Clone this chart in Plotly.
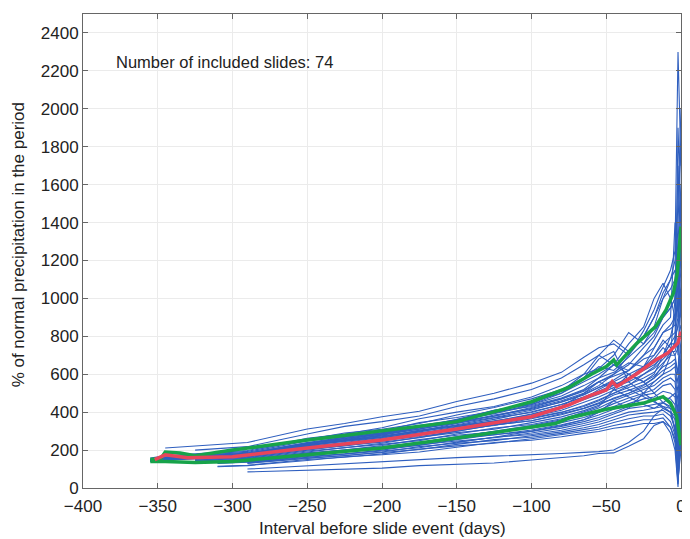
import plotly.graph_objects as go

N = None
# Day grid for the individual slide series (days before the slide event)
days = [-355, -345, -325, -310, -290, -250, -225, -200, -175, -150, -125, -100,
        -80, -65, -55, -45, -35, -25, -18, -12, -7, -4, -2, 0]

slides = [
    [N, 211, 222, 228, 240, 311, 340, 376, 405, 456, 500, 553, 610, 690, 740, 760, 700, 830, 940, 1060, 1150, 1250, 2300, 1700],
    [N, N, 200, 208, 218, 285, 325, 350, 380, 430, 470, 520, 580, 650, 700, 780, 720, 800, 900, 1030, 1100, 1200, 1500, 2000],
    [158, 170, 180, 188, 198, 262, 285, 318, 365, 400, 430, 480, 540, 600, 630, 700, 820, 760, 850, 1000, 1050, 1100, 1300, 1600],
    [152, 165, 175, 183, 193, 255, 290, 310, 340, 385, 425, 470, 520, 580, 640, 620, 690, 760, 820, 900, 950, 1000, 1200, 1450],
    [150, 160, 172, 179, 188, 248, 270, 300, 345, 372, 405, 455, 500, 560, 600, 650, 620, 700, 780, 860, 900, 1400, 1050, 1300],
    [148, 158, 168, 176, 184, 240, 268, 292, 320, 362, 410, 440, 485, 540, 580, 610, 660, 640, 740, 820, 860, 900, 980, 1150],
    [146, 156, 165, 172, 180, 234, 262, 285, 318, 352, 380, 425, 470, 510, 560, 590, 620, 680, 700, 760, 800, 820, 900, 1050],
    [145, 154, 162, 169, 176, 228, 250, 278, 312, 342, 372, 410, 455, 495, 530, 560, 600, 640, 680, 740, 700, 780, 860, 950],
    [144, 152, 160, 166, 173, 222, 250, 270, 295, 334, 370, 398, 440, 480, 510, 545, 580, 620, 650, 700, 760, 760, 1100, 900],
    [142, 150, 158, 164, 170, 216, 236, 262, 298, 325, 350, 388, 425, 465, 495, 530, 560, 600, 630, 680, 720, 720, 780, 860],
    [140, 148, 155, 161, 167, 210, 235, 255, 280, 316, 348, 376, 410, 450, 480, 515, 545, 580, 610, 660, 700, 700, 740, 820],
    [N, N, 150, 156, 163, 205, 222, 248, 282, 308, 330, 365, 398, 435, 465, 500, 530, 560, 590, 640, 660, 680, 600, 780],
    [N, N, 148, 153, 160, 200, 225, 242, 265, 300, 332, 355, 386, 420, 450, 490, 515, 545, 580, 620, 640, 660, 550, 750],
    [N, N, 145, 150, 156, 195, 212, 236, 268, 292, 310, 345, 375, 408, 436, 475, 500, 530, 560, 600, 620, 640, 500, 700],
    [N, N, 142, 147, 153, 190, 213, 230, 250, 285, 316, 335, 365, 396, 422, 460, 490, 520, 540, 580, 600, 600, 450, 680],
    [N, N, N, 140, 148, 185, 200, 224, 255, 278, 295, 325, 355, 384, 410, 445, 475, 500, 520, 560, 580, 560, 400, 650],
    [N, N, N, 138, 145, 180, 202, 218, 240, 270, 298, 316, 345, 372, 398, 430, 460, 490, 500, 540, 550, 520, 350, 620],
    [N, N, N, 135, 141, 175, 190, 212, 240, 262, 280, 306, 334, 360, 385, 415, 445, 470, 480, 510, 500, 480, 300, 600],
    [N, N, N, 132, 139, 170, 192, 206, 225, 255, 282, 298, 325, 350, 372, 400, 430, 450, 460, 480, 470, 440, 250, 560],
    [N, N, N, 130, 136, 166, 180, 200, 228, 248, 265, 290, 316, 340, 360, 390, 420, 430, 440, 450, 430, 400, 200, 520],
    [N, N, N, N, 135, 162, 182, 195, 212, 242, 268, 282, 305, 330, 348, 375, 400, 410, 420, 430, 400, 360, 150, 480],
    [N, N, N, N, 132, 158, 170, 190, 218, 236, 250, 275, 296, 318, 335, 360, 385, 395, 400, 410, 380, 320, 100, 450],
    [N, N, N, N, 130, 155, 173, 186, 203, 230, 255, 268, 288, 308, 322, 345, 365, 380, 380, 390, 350, 280, 60, 420],
    [N, N, N, 115, 120, 150, 162, 180, 205, 222, 236, 260, 280, 298, 310, 330, 345, 360, 360, 370, 320, 240, 20, 400],
    [N, N, N, 112, 118, 145, 165, 175, 190, 215, 240, 252, 270, 288, 298, 315, 325, 340, 340, 350, 290, 200, 5, 380],
    [N, N, N, N, 100, 118, 130, 140, 152, 160, 168, 174, 182, 188, 192, 200, 240, 300, 380, 420, 400, 300, 100, 300],
    [N, N, N, N, 85, 95, 100, 105, 118, 125, 132, 148, 160, 170, 182, 185, 220, 260, 330, 350, 320, 260, 30, 250],
    [150, 158, 168, 174, 182, 238, 260, 290, 330, 360, 395, 440, 500, 580, 680, 720, 560, 500, 460, 420, 400, 380, 200, 300],
    [N, N, 160, 168, 176, 235, 268, 288, 318, 358, 410, 445, 510, 600, 700, 650, 600, 560, 500, 450, 420, 400, 100, 250],
    [148, 156, 166, 173, 180, 236, 255, 286, 325, 356, 392, 435, 475, 520, 580, 650, 760, 850, 1000, 1080, 1000, 900, 700, 1100],
    [147, 155, 164, 170, 178, 232, 262, 282, 310, 350, 400, 430, 470, 515, 560, 600, 700, 800, 900, 1000, 1100, 1150, 900, 1300],
    [N, N, 155, 163, 172, 230, 250, 280, 318, 346, 378, 420, 460, 500, 540, 600, 650, 740, 800, 900, 950, 1000, 1400, 1800],
    [145, 152, 160, 166, 174, 226, 255, 275, 300, 340, 385, 415, 452, 490, 530, 570, 620, 700, 740, 820, 840, 860, 1000, 1550],
    [143, 150, 158, 164, 171, 220, 240, 268, 305, 330, 362, 402, 440, 480, 510, 540, 580, 640, 700, 780, 740, 700, 600, 1000],
    [N, N, N, N, N, N, N, 210, 240, 270, 300, 330, 360, 400, 430, 520, 600, 560, 600, 700, 800, 900, 1200, 900],
    [N, N, N, N, N, N, N, N, N, 240, 268, 300, 330, 360, 400, 460, 420, 500, 560, 600, 700, 1000, 1700, 1200],
    [150, 157, 165, 171, 178, 228, 245, 272, 305, 330, 352, 390, 430, 500, 560, 520, 480, 440, 420, 450, 480, 500, 400, 350],
    [146, 153, 161, 167, 174, 224, 248, 266, 290, 322, 355, 380, 420, 470, 520, 560, 520, 480, 450, 430, 420, 300, 50, 200],
    [144, 150, 157, 163, 170, 218, 232, 258, 290, 312, 335, 370, 400, 430, 460, 500, 540, 600, 640, 700, 760, 800, 850, 1250],
    [141, 147, 154, 160, 166, 212, 235, 250, 272, 300, 332, 355, 390, 420, 445, 470, 500, 540, 580, 650, 720, 760, 1900, 1400],
]
for row in slides:
    assert len(row) == len(days), row

upper_days = [-355, -348, -345, -335, -325, -300, -250, -200, -150, -100, -75, -60, -50, -45, -43, -30, -17, -10, -5, -2.5, 0]
upper_vals = [150, 155, 190, 185, 170, 200, 253, 300, 350, 455, 530, 600, 640, 675, 649, 760, 851, 939, 1030, 1134, 1379]

lower_days = [-355, -345, -325, -300, -250, -200, -150, -100, -84, -75, -50, -25, -12, -7, -3, 0]
lower_vals = [140, 140, 135, 140, 175, 211, 264, 324, 340, 369, 415, 448, 482, 448, 380, 225]

median_days = [-352, -345, -330, -300, -250, -200, -150, -100, -75, -60, -50, -46, -43, -30, -17, -9, -2, -1, 0]
median_vals = [150, 175, 160, 165, 211, 253, 311, 376, 438, 490, 517, 561, 535, 600, 675, 711, 765, 800, 825]

x_ticks = [-400, -350, -300, -250, -200, -150, -100, -50, 0]
y_ticks = list(range(0, 2401, 200))

BLUE = "#2f5fbf"
GREEN = "#17a34a"
RED = "#e8455a"

fig = go.Figure()
for s in slides:
    fig.add_trace(go.Scatter(x=days, y=s, mode="lines", line=dict(color=BLUE, width=1.1),
                             connectgaps=False, showlegend=False, hoverinfo="skip"))
fig.add_trace(go.Scatter(x=upper_days, y=upper_vals, mode="lines", line=dict(color=GREEN, width=3.5), showlegend=False))
fig.add_trace(go.Scatter(x=lower_days, y=lower_vals, mode="lines", line=dict(color=GREEN, width=3.5), showlegend=False))
fig.add_trace(go.Scatter(x=median_days, y=median_vals, mode="lines", line=dict(color=RED, width=3.5), showlegend=False))

font = dict(family="Liberation Sans, Arial, sans-serif", color="#222222")
axis_common = dict(showline=True, linecolor="#666666", linewidth=1, mirror="ticks",
                   ticks="inside", ticklen=5, tickcolor="#666666",
                   showgrid=True, gridcolor="#ebebeb", gridwidth=1, zeroline=False,
                   ticklabeloverflow="allow",
                   tickfont=dict(size=17, **font))

# page body has an 8px default margin, so the figure is sized/offset to compensate
fig.update_layout(
    width=682, height=531,
    margin=dict(l=75, r=4, t=6, b=51),
    paper_bgcolor="white", plot_bgcolor="white",
    xaxis=dict(range=[-400, 0], tickvals=x_ticks, ticklabelstandoff=3, **axis_common),
    yaxis=dict(range=[0, 2500], tickvals=y_ticks, **axis_common),
    annotations=[
        dict(x=-379.5, y=2248, xref="x", yref="y", text="Number of included slides: 74",
             showarrow=False, xanchor="left", yanchor="middle", font=dict(size=16.5, **font)),
        dict(x=0.5, y=-0.0844, xref="paper", yref="paper", text="Interval before slide event (days)",
             showarrow=False, xanchor="center", yanchor="middle", font=dict(size=17, **font)),
        dict(x=-0.1078, y=0.513, xref="paper", yref="paper", text="% of normal precipitation in the period",
             showarrow=False, xanchor="center", yanchor="middle", textangle=-90, font=dict(size=17, **font)),
    ],
)

fig.write_html("out.html")
